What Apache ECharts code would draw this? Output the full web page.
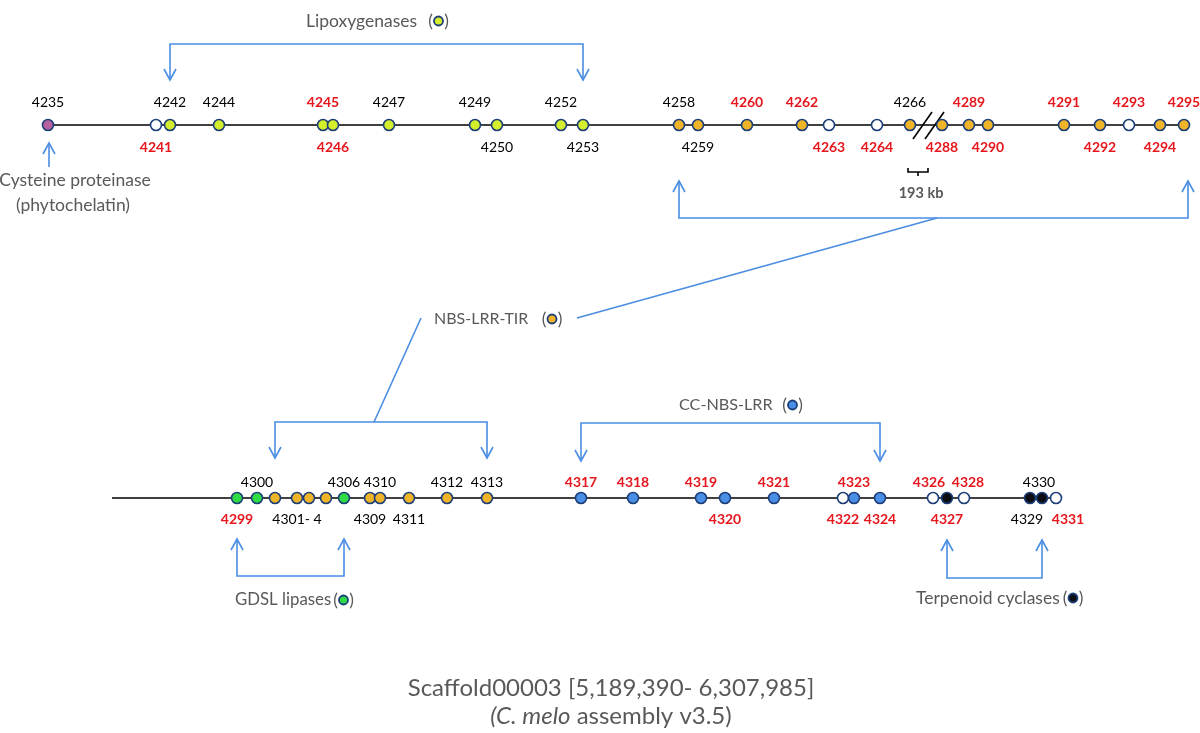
<!DOCTYPE html>
<html><head><meta charset="utf-8">
<script src="https://cdn.jsdelivr.net/npm/echarts@6/dist/echarts.min.js"></script>
<style>html,body{margin:0;padding:0;background:#fff}#c{width:1200px;height:733px}</style>
</head><body><div id="c"></div>
<script>
// ---------- DATA ----------
// Top scaffold segment
const topGenes = ['4235','4241','4242','4244','4245','4246','4247','4249','4250','4252','4253','4258','4259','4260','4262','4263','4264','4266','4288','4289','4290','4291','4292','4293','4294','4295'];
const topPos   = [48,156,170,219,323,333,389,475,497,561,583,679,698,747,802,829,877,910,942,969,988,1064,1100,1129,1160,1184];
const topType  = ['cys','none','lox','lox','lox','lox','lox','lox','lox','lox','lox','tir','tir','tir','tir','none','none','tir','tir','tir','tir','tir','tir','none','tir','tir'];
const topSide  = ['up','down','up','up','up','down','up','up','down','up','down','up','down','up','up','down','down','up','down','up','down','up','down','up','down','up'];
const topRed   = [0,1,0,0,1,1,0,0,0,0,0,0,0,1,1,1,1,0,1,1,1,1,1,1,1,1];
// Bottom scaffold segment
const botGenes  = ['4299','4300','4301','4302','4303','4304','4306','4309','4310','4311','4312','4313','4317','4318','4319','4320','4321','4322','4323','4324','4326','4327','4328','4329','4330','4331'];
const botLabels = ['4299','4300','','4301- 4','','','4306','4309','4310','4311','4312','4313','4317','4318','4319','4320','4321','4322','4323','4324','4326','4327','4328','4329','4330','4331'];
const botPos    = [237,257,275,297,309,326,344,370,380,409,447,487,581,633,701,725,774,843,854,880,933,947,964,1030,1042,1056];
const botType   = ['gdsl','gdsl','tir','tir','tir','tir','gdsl','tir','tir','tir','tir','tir','cc','cc','cc','cc','cc','none','cc','cc','none','terp','none','terp','terp','none'];
const botSide   = ['down','up','','down','','','up','down','up','down','up','up','up','up','up','down','up','down','up','down','up','down','up','down','up','down'];
const botRed    = [1,0,0,0,0,0,0,0,0,0,0,0,1,1,1,1,1,1,1,1,1,1,1,0,0,1];
const botScaffoldStart = 112;
const breakBetween = ['4266','4288'];
const breakLabel = '193 kb';
// Functional groups
const groupNames = ['Lipoxygenases','NBS-LRR-TIR','CC-NBS-LRR','GDSL lipases','Terpenoid cyclases'];
const groupFrom  = ['4242','4258','4317','4299','4327'];
const groupTo    = ['4253','4295','4324','4306','4330'];
const groupType  = ['lox','tir','cc','gdsl','terp'];
const singleName = ['Cysteine proteinase','(phytochelatin)'];
const titleLines = ['Scaffold00003 [5,189,390- 6,307,985]','(C. melo assembly v3.5)'];

// ---------- STYLE ----------
const FILL = {cys:'#b660a0', none:'#ffffff', lox:'#d4ee2c', tir:'#f0b428', cc:'#4a8ee6', gdsl:'#2fdc46', terp:'#0d0d14'};
const BORDER = '#1d3f78';
const RED = '#e5161c';
const GRAY = '#595959';
const BLUE = '#4a8de2';
const FONT = 'Lato, "Open Sans", sans-serif';
const TOP_Y = 125, BOT_Y = 498;
const labelShift = {'4331':12, '4326':-4, '4328':4, '4329':-3, '4330':-3};

const posOf = {};
topGenes.forEach((g,i)=>posOf[g]=[topPos[i],TOP_Y]);
botGenes.forEach((g,i)=>posOf[g]=[botPos[i],BOT_Y]);

function geneData(ids, pos, types, sides, red, labels, y, upDist, downDist){
  return ids.map((g,i)=>({
    value:[pos[i], y],
    name: labels ? labels[i] : g,
    itemStyle:{color:FILL[types[i]], borderColor:BORDER},
    label:{
      show: !!sides[i] && (labels ? labels[i] !== '' : true),
      position: sides[i]==='up'?'top':'bottom',
      distance: sides[i]==='up'?upDist:downDist,
      color: red[i]?RED:'#000',
      fontWeight: red[i]?'bold':'normal',
      offset: [labelShift[g]||0, 0]
    }
  }));
}

function chevron(x, tip, dir){ // dir: +1 pointing down, -1 pointing up
  return [[x-6, tip-dir*11],[x, tip],[x+6, tip-dir*11]];
}

const blueLines = [];
const blackLines = [];
blackLines.push({coords:[[Math.min(...topPos),TOP_Y],[Math.max(...topPos),TOP_Y]]});
blackLines.push({coords:[[botScaffoldStart,BOT_Y],[Math.max(...botPos),BOT_Y]]});
const bx = (posOf[breakBetween[0]][0]+posOf[breakBetween[1]][0])/2;
[bx-3.5, bx+8.5].forEach(cx=>blackLines.push({coords:[[cx-9.5,TOP_Y+14],[cx+9.5,TOP_Y-13]]}));
const kx = bx-8;
blackLines.push({coords:[[kx-10,168],[kx-10,172],[kx+10,172],[kx+10,168]]});
blackLines.push({coords:[[kx,172],[kx,176]]});

const bracketGeom = {
  'Lipoxygenases':[44,80],
  'NBS-LRR-TIR':[218,181],
  'CC-NBS-LRR':[423,461],
  'GDSL lipases':[576,539],
  'Terpenoid cyclases':[578,540]
};
groupNames.forEach((n,i)=>{
  const [barY,tipY] = bracketGeom[n];
  const x1 = posOf[groupFrom[i]][0], x2 = posOf[groupTo[i]][0] + (n==='NBS-LRR-TIR'?4:0);
  const dir = tipY>barY?1:-1;
  blueLines.push({coords:[[x1,tipY],[x1,barY],[x2,barY],[x2,tipY]]});
  blueLines.push({coords:chevron(x1,tipY,dir)});
  blueLines.push({coords:chevron(x2,tipY,dir)});
});
const tb1 = posOf['4301'][0], tb2 = posOf['4313'][0];
blueLines.push({coords:[[tb1,458],[tb1,422],[tb2,422],[tb2,458]]});
blueLines.push({coords:chevron(tb1,458,1)});
blueLines.push({coords:chevron(tb2,458,1)});
blueLines.push({coords:[[937,218],[577,318]]});
blueLines.push({coords:[[421,318],[374,422]]});
const cx0 = posOf['4235'][0]+1;
blueLines.push({coords:[[cx0,167],[cx0,143]]});
blueLines.push({coords:chevron(cx0,143,-1)});

// ---------- GRAPHIC TEXTS ----------
const graphic = [];
const AFONT = '17.5px '+FONT;
function txt(text,x,y,opts){
  graphic.push({type:'text', x, y, silent:true,
    style:Object.assign({text, fill:GRAY, font:AFONT, textAlign:'left', textVerticalAlign:'middle'}, opts||{})});
}
function legend(name, x, y, type, dotX, size){
  txt(name, x, y, {font:size+'px '+FONT});
  txt('(', dotX-8, y, {textAlign:'center'});
  txt(')', dotX+8, y, {textAlign:'center'});
  graphic.push({type:'circle', x:dotX, y:y, silent:true, shape:{r:4.5}, style:{fill:FILL[type], stroke:BORDER, lineWidth:1.8}});
}
legend(groupNames[0], 306, 21, groupType[0], 438.5, 17.5);
legend(groupNames[1], 434, 319, groupType[1], 552, 16);
legend(groupNames[2], 679, 405, groupType[2], 792.5, 16.2);
legend(groupNames[3], 235, 600, groupType[3], 343.5, 16.8);
legend(groupNames[4], 916, 598, groupType[4], 1073, 17.5);
txt(singleName[0], 75, 180, {textAlign:'center'});
txt(singleName[1], 73, 205, {textAlign:'center'});
txt(breakLabel, kx+3, 193, {textAlign:'center', font:'bold 14.5px '+FONT});
txt(titleLines[0], 611, 688, {textAlign:'center', font:'24px '+FONT});
graphic.push({type:'text', x:611, y:716, silent:true, style:{
  text:'{i|(C. melo} assembly v3.5)', fill:GRAY, font:'24px '+FONT, textAlign:'center', textVerticalAlign:'middle',
  rich:{i:{fontStyle:'italic', fontSize:24, fontFamily:FONT, fill:GRAY, color:GRAY}}}});

// ---------- CHART ----------
const chart = echarts.init(document.getElementById('c'), null, {renderer:'canvas'});
const labelBase = {show:true, formatter:p=>p.name, fontFamily:FONT, fontSize:14};
chart.setOption({
  animation:false,
  grid:{left:0,right:0,top:0,bottom:0},
  xAxis:{type:'value', min:0, max:1200, show:false},
  yAxis:{type:'value', min:0, max:733, inverse:true, show:false},
  graphic: graphic,
  series:[
    {type:'lines', coordinateSystem:'cartesian2d', polyline:true, silent:true, z:1,
     lineStyle:{color:'#000', width:1.6, opacity:1}, data:blackLines},
    {type:'lines', coordinateSystem:'cartesian2d', polyline:true, silent:true, z:1,
     lineStyle:{color:BLUE, width:1.6, opacity:1}, data:blueLines},
    {type:'scatter', symbol:'circle', symbolSize:11, z:3,
     itemStyle:{borderWidth:1.6, opacity:1}, label:labelBase,
     data:geneData(topGenes, topPos, topType, topSide, topRed, null, TOP_Y, 9, 9)},
    {type:'scatter', symbol:'circle', symbolSize:11, z:3,
     itemStyle:{borderWidth:1.6, opacity:1}, label:labelBase,
     data:geneData(botGenes, botPos, botType, botSide, botRed, botLabels, BOT_Y, 2, 8)}
  ]
});
</script></body></html>
